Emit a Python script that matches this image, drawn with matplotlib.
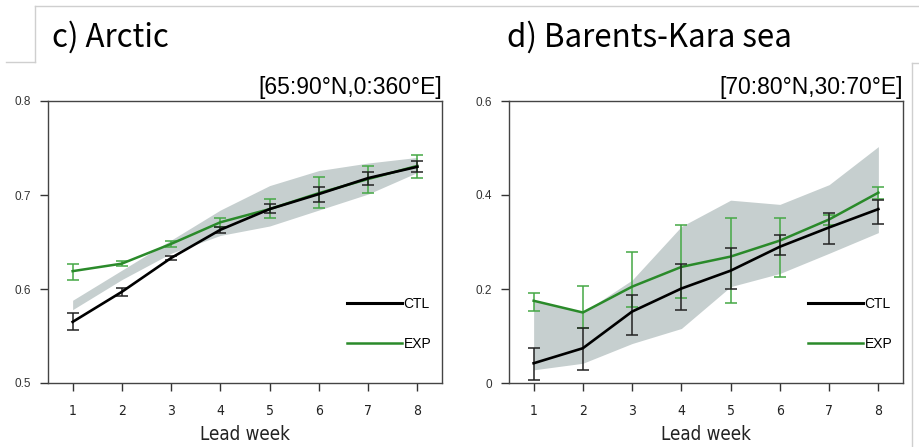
import matplotlib
matplotlib.use("Agg")
import matplotlib.pyplot as plt
from matplotlib import font_manager
from matplotlib.lines import Line2D

# ── Skill scores by lead week ────────────────────────────────────────────────
weeks = [1, 2, 3, 4, 5, 6, 7, 8]

# c) Arctic
arctic_ctl = [0.565, 0.597, 0.633, 0.663, 0.685, 0.701, 0.718, 0.730]
arctic_ctl_lo = [0.556, 0.593, 0.631, 0.660, 0.681, 0.693, 0.711, 0.724]
arctic_ctl_hi = [0.575, 0.601, 0.635, 0.666, 0.690, 0.709, 0.724, 0.736]
arctic_exp = [0.619, 0.627, 0.648, 0.671, 0.685, 0.702, 0.717, 0.731]
arctic_exp_lo = [0.610, 0.624, 0.645, 0.666, 0.675, 0.686, 0.702, 0.718]
arctic_exp_hi = [0.627, 0.630, 0.651, 0.676, 0.696, 0.719, 0.731, 0.743]
arctic_band_lo = [0.578, 0.610, 0.638, 0.657, 0.667, 0.684, 0.701, 0.724]
arctic_band_hi = [0.588, 0.620, 0.652, 0.684, 0.710, 0.726, 0.734, 0.740]

# d) Barents-Kara sea
bk_ctl = [0.042, 0.074, 0.152, 0.201, 0.239, 0.290, 0.331, 0.370]
bk_ctl_lo = [0.006, 0.028, 0.102, 0.155, 0.199, 0.272, 0.295, 0.338]
bk_ctl_hi = [0.075, 0.116, 0.187, 0.253, 0.287, 0.315, 0.361, 0.389]
bk_exp = [0.175, 0.150, 0.205, 0.247, 0.269, 0.303, 0.348, 0.405]
bk_exp_lo = [0.154, 0.118, 0.161, 0.180, 0.171, 0.226, 0.336, 0.391]
bk_exp_hi = [0.191, 0.207, 0.278, 0.336, 0.352, 0.352, 0.357, 0.418]
bk_band_lo = [0.028, 0.042, 0.084, 0.116, 0.205, 0.233, 0.276, 0.320]
bk_band_hi = [0.175, 0.150, 0.219, 0.333, 0.389, 0.380, 0.422, 0.503]

SHADE = "#c6cfcf"
GREEN = "#2a8a2a"
GREEN_ERR = "#45a845"
AXIS = "#333333"


def _family(name, fallback):
    try:
        font_manager.findfont(name, fallback_to_default=False)
        return [name, fallback]
    except ValueError:
        return [fallback]


TITLE_FONT = _family("Noto Sans CJK KR", "DejaVu Sans")
REGION_FONT = _family("Liberation Sans", "DejaVu Sans")
NARROW_FONT = _family("Liberation Sans Narrow", "DejaVu Sans")

W, H = 920, 447
fig = plt.figure(figsize=(W / 100, H / 100), dpi=100)


def px_axes(x0, y0, x1, y1):
    return fig.add_axes([x0 / W, 1 - y1 / H, (x1 - x0) / W, (y1 - y0) / H])


def draw_panel(ax, ctl, ctl_lo, ctl_hi, exp, exp_lo, exp_hi, band_lo, band_hi,
               ylim, yticks, yticklabels):
    ax.fill_between(weeks, band_lo, band_hi, color=SHADE, lw=0, zorder=1)

    exp_err = [[e - lo for e, lo in zip(exp, exp_lo)], [hi - e for e, hi in zip(exp, exp_hi)]]
    ctl_err = [[c - lo for c, lo in zip(ctl, ctl_lo)], [hi - c for c, hi in zip(ctl, ctl_hi)]]
    ax.errorbar(weeks, exp, yerr=exp_err, color=GREEN, ecolor=GREEN_ERR, lw=1.8,
                elinewidth=1.1, capsize=4.5, capthick=1.1, zorder=3)
    ax.errorbar(weeks, ctl, yerr=ctl_err, color="black", ecolor="#222222", lw=1.9,
                elinewidth=1.1, capsize=4.5, capthick=1.1, zorder=4)

    ax.set_xlim(0.5, 8.5)
    ax.set_ylim(*ylim)
    ax.set_xticks(weeks)
    ax.set_xticklabels([str(w) for w in weeks], family=NARROW_FONT, fontsize=10,
                       fontstretch="condensed", color="#222222")
    ax.set_yticks(yticks)
    ax.set_yticklabels(yticklabels, family=REGION_FONT, fontsize=8.5, color=AXIS)
    ax.tick_params(axis="both", direction="out", length=6, width=1.0, color=AXIS)
    ax.tick_params(axis="x", pad=9)
    ax.tick_params(axis="y", pad=6)
    for sp in ax.spines.values():
        sp.set_color("#444444")
        sp.set_linewidth(1.0)
    ax.set_xlabel("Lead week", family=NARROW_FONT, fontstretch="condensed",
                  fontsize=13.5, labelpad=5, color="#222222")

    handles = [Line2D([], [], color="black", lw=2.2), Line2D([], [], color=GREEN, lw=1.8)]
    ax.legend(handles, ["CTL", "EXP"], loc="lower right", bbox_to_anchor=(1.005, 0.07),
              frameon=False, handlelength=3.9, handletextpad=0.15, labelspacing=1.85,
              prop={"family": REGION_FONT, "size": 10})


ax1 = px_axes(48, 101, 442, 383)
draw_panel(ax1, arctic_ctl, arctic_ctl_lo, arctic_ctl_hi, arctic_exp, arctic_exp_lo,
           arctic_exp_hi, arctic_band_lo, arctic_band_hi,
           (0.5, 0.8), [0.5, 0.6, 0.7, 0.8], ["0.5", "0.6", "0.7", "0.8"])

ax2 = px_axes(509, 101, 903, 383)
draw_panel(ax2, bk_ctl, bk_ctl_lo, bk_ctl_hi, bk_exp, bk_exp_lo, bk_exp_hi,
           bk_band_lo, bk_band_hi,
           (0.0, 0.6), [0.0, 0.2, 0.4, 0.6], ["0", "0.2", "0.4", "0.6"])

# Panel headings and region boxes
fig.text(52 / W, 1 - 47 / H, "c) Arctic", family=TITLE_FONT, fontsize=22.5, va="baseline")
fig.text(507 / W, 1 - 47 / H, "d) Barents-Kara sea", family=TITLE_FONT, fontsize=22.5,
         va="baseline")
fig.text(442 / W, 1 - 94 / H, "[65:90\u00b0N,0:360\u00b0E]", family=REGION_FONT,
         fontsize=16.5, ha="right", va="baseline")
fig.text(903 / W, 1 - 94 / H, "[70:80\u00b0N,30:70\u00b0E]", family=REGION_FONT,
         fontsize=16.5, ha="right", va="baseline")

# Light frame lines around the panel headings
frame = dict(color="#cfcfcf", lw=1.0, transform=fig.transFigure)
fig.add_artist(Line2D([35 / W, 1], [1 - 6 / H, 1 - 6 / H], **frame))
fig.add_artist(Line2D([35 / W, 35 / W], [1 - 6 / H, 1 - 62 / H], **frame))
fig.add_artist(Line2D([6 / W, 35 / W], [1 - 62 / H, 1 - 62 / H], **frame))
fig.add_artist(Line2D([912 / W, 912 / W], [1 - 63 / H, 0], **frame))
fig.add_artist(Line2D([912 / W, 1], [1 - 63 / H, 1 - 63 / H], **frame))

fig.savefig("out.png", dpi=100)
